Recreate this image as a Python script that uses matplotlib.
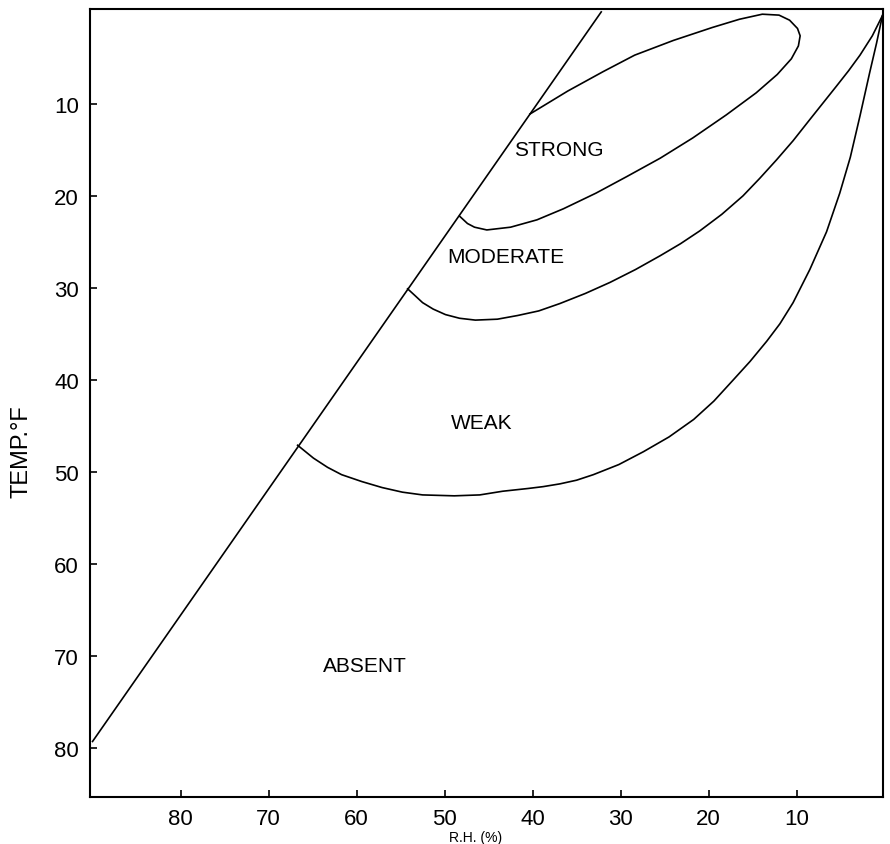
import matplotlib
matplotlib.use("Agg")
import matplotlib.pyplot as plt

# boundary line (left edge of the diagram)
edge_x = [90, 32.2]
edge_y = [79.3, 0]

# STRONG region (loop against the edge line)
strong_x = [40.3, 36, 32, 28.4, 24, 19.6, 16.5, 13.9, 12, 10.8, 9.9, 9.6, 9.8, 10.6, 12.2,
            14.6, 18, 21.8, 25.5, 29.3, 32.8, 36.5, 39.5, 42.5, 45.2, 46.6, 47.4, 48.3]
strong_y = [11.1, 8.6, 6.5, 4.7, 3.1, 1.7, 0.8, 0.25, 0.35, 0.9, 1.8, 2.6, 3.7, 5.1, 6.8,
            8.8, 11.2, 13.7, 15.9, 17.9, 19.7, 21.4, 22.6, 23.4, 23.7, 23.4, 23.0, 22.2]

# MODERATE / WEAK boundary
moderate_x = [54.2, 53.4, 52.5, 51.3, 49.9, 48.3, 46.5, 44.0, 41.7, 39.3, 36.9, 34.0, 31.2,
              28.3, 25.5, 23.2, 21.0, 18.5, 16.1, 14.2, 12.3, 10.4, 8.5, 7.0, 5.5, 4.1,
              2.8, 1.4, 0.25]
moderate_y = [30.1, 30.8, 31.6, 32.3, 32.9, 33.3, 33.5, 33.4, 33.0, 32.5, 31.7, 30.6, 29.4,
              28.0, 26.5, 25.2, 23.8, 22.0, 20.0, 18.1, 16.1, 14.0, 11.7, 9.9, 8.1, 6.4,
              4.7, 2.6, 0.4]

# WEAK / ABSENT boundary
weak_x = [66.7, 64.9, 63.3, 61.7, 59.4, 57.1, 54.8, 52.5, 48.9, 46.0, 43.4, 40.5, 38.8,
          36.9, 35.0, 33.1, 30.2, 27.4, 24.5, 21.7, 19.4, 17.2, 15.3, 13.4, 11.9, 10.4,
          8.5, 6.6, 5.1, 3.9, 2.8, 1.7, 0.92, 0.25]
weak_y = [47.1, 48.5, 49.5, 50.3, 51.05, 51.7, 52.2, 52.5, 52.6, 52.5, 52.1, 51.8, 51.6,
          51.3, 50.9, 50.3, 49.2, 47.8, 46.2, 44.3, 42.3, 40.0, 38.0, 35.8, 33.9, 31.6,
          28.0, 23.9, 19.7, 15.8, 11.3, 6.6, 3.4, 0.4]

# region labels
labels = ["STRONG", "MODERATE", "WEAK", "ABSENT"]
label_x = [37.0, 43.0, 45.8, 59.0]
label_y = [15.0, 26.6, 44.6, 71.0]

x_ticks = [80, 70, 60, 50, 40, 30, 20, 10]
y_ticks = [10, 20, 30, 40, 50, 60, 70, 80]

plt.rcParams["font.family"] = ["Liberation Sans", "DejaVu Sans"]

fig = plt.figure(figsize=(8.9, 8.45), dpi=100)
ax = fig.add_axes([0.101, 0.056, 0.891, 0.932])

lw = 1.2
ax.plot(edge_x, edge_y, color="black", lw=lw)
ax.plot(strong_x, strong_y, color="black", lw=lw, solid_joinstyle="round")
ax.plot(moderate_x, moderate_y, color="black", lw=lw, solid_joinstyle="round")
ax.plot(weak_x, weak_y, color="black", lw=lw, solid_joinstyle="round")

for t, x, y in zip(labels, label_x, label_y):
    ax.text(x, y, t, ha="center", va="center", fontsize=15)

ax.set_xlim(90.3, 0.2)
ax.set_ylim(85.3, -0.3)
ax.set_xticks(x_ticks)
ax.set_yticks(y_ticks)
ax.tick_params(direction="in", length=5, width=1.2, labelsize=16, pad=8)
for s in ax.spines.values():
    s.set_linewidth(1.5)

ax.set_ylabel("TEMP.°F", fontsize=17)
ax.yaxis.set_label_coords(-0.073, 0.44)
fig.text(0.534, 0.0, "R.H. (%)", ha="center", va="bottom", fontsize=10)

fig.savefig("out.png")
